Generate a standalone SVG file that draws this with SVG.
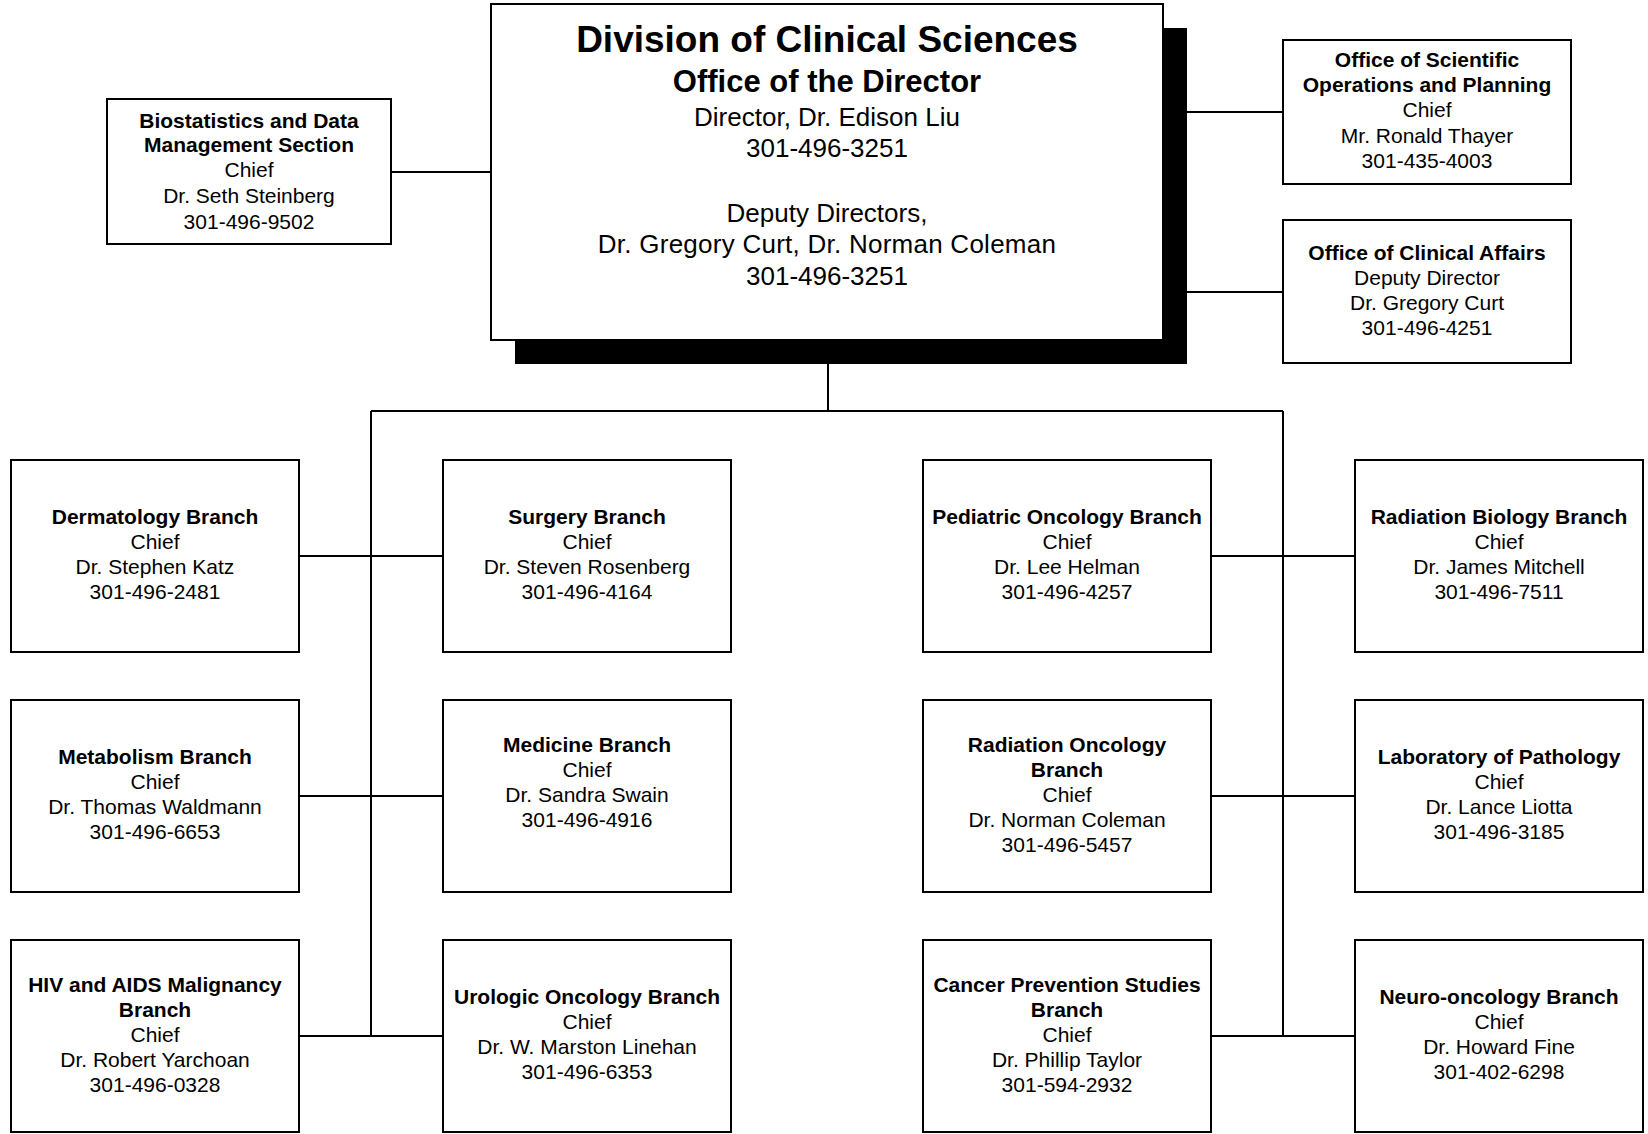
<svg xmlns="http://www.w3.org/2000/svg" width="1648" height="1134" viewBox="0 0 1648 1134">
<style>
  .box { fill: #ffffff; stroke: #000000; stroke-width: 2; }
  .shadow { fill: #000000; }
  .wire { stroke: #000000; stroke-width: 2; fill: none; }
  text { font-family: "Liberation Sans", Arial, sans-serif; fill: #000000; text-anchor: middle; }
  .b { font-size: 21px; font-weight: bold; }
  .r { font-size: 21px; }
  .t1 { font-size: 37px; font-weight: bold; }
  .t2 { font-size: 31px; font-weight: bold; }
  .m { font-size: 26px; }
</style>
<rect width="1648" height="1134" fill="#ffffff"/>

<g id="connectors">
  <line class="wire" x1="391" y1="172" x2="491" y2="172"/>
  <line class="wire" x1="1187" y1="112" x2="1283" y2="112"/>
  <line class="wire" x1="1187" y1="292" x2="1283" y2="292"/>
  <line class="wire" x1="828" y1="364" x2="828" y2="411"/>
  <line class="wire" x1="371" y1="411" x2="1283" y2="411"/>
  <line class="wire" x1="371" y1="411" x2="371" y2="1036"/>
  <line class="wire" x1="1283" y1="411" x2="1283" y2="1036"/>
  <line class="wire" x1="299" y1="556" x2="443" y2="556"/>
  <line class="wire" x1="299" y1="796" x2="443" y2="796"/>
  <line class="wire" x1="299" y1="1036" x2="443" y2="1036"/>
  <line class="wire" x1="1211" y1="556" x2="1355" y2="556"/>
  <line class="wire" x1="1211" y1="796" x2="1355" y2="796"/>
  <line class="wire" x1="1211" y1="1036" x2="1355" y2="1036"/>
</g>

<g id="director">
  <rect class="shadow" x="515" y="28" width="672" height="336"/>
  <rect class="box" x="491" y="4" width="672" height="336"/>
  <text class="t1" x="827" y="52">Division of Clinical Sciences</text>
  <text class="t2" x="827" y="92">Office of the Director</text>
  <text class="m" x="827" y="126">Director, Dr. Edison Liu</text>
  <text class="m" x="827" y="157">301-496-3251</text>
  <text class="m" x="827" y="222">Deputy Directors,</text>
  <text class="m" x="827" y="253" letter-spacing="0.25">Dr. Gregory Curt, Dr. Norman Coleman</text>
  <text class="m" x="827" y="285">301-496-3251</text>
</g>

<g id="biostatistics">
  <rect class="box" x="107" y="99" width="284" height="145"/>
  <text class="b" x="249" y="128">Biostatistics and Data</text>
  <text class="b" x="249" y="152">Management Section</text>
  <text class="r" x="249" y="177">Chief</text>
  <text class="r" x="249" y="203">Dr. Seth Steinberg</text>
  <text class="r" x="249" y="229">301-496-9502</text>
</g>

<g id="scientific-operations">
  <rect class="box" x="1283" y="40" width="288" height="144"/>
  <text class="b" x="1427" y="67">Office of Scientific</text>
  <text class="b" x="1427" y="92">Operations and Planning</text>
  <text class="r" x="1427" y="117">Chief</text>
  <text class="r" x="1427" y="143">Mr. Ronald Thayer</text>
  <text class="r" x="1427" y="168">301-435-4003</text>
</g>

<g id="clinical-affairs">
  <rect class="box" x="1283" y="220" width="288" height="143"/>
  <text class="b" x="1427" y="260">Office of Clinical Affairs</text>
  <text class="r" x="1427" y="285">Deputy Director</text>
  <text class="r" x="1427" y="310">Dr. Gregory Curt</text>
  <text class="r" x="1427" y="335">301-496-4251</text>
</g>

<g id="dermatology">
  <rect class="box" x="11" y="460" width="288" height="192"/>
  <text class="b" x="155" y="524">Dermatology Branch</text>
  <text class="r" x="155" y="549">Chief</text>
  <text class="r" x="155" y="574">Dr. Stephen Katz</text>
  <text class="r" x="155" y="599">301-496-2481</text>
</g>

<g id="surgery">
  <rect class="box" x="443" y="460" width="288" height="192"/>
  <text class="b" x="587" y="524">Surgery Branch</text>
  <text class="r" x="587" y="549">Chief</text>
  <text class="r" x="587" y="574">Dr. Steven Rosenberg</text>
  <text class="r" x="587" y="599">301-496-4164</text>
</g>

<g id="pediatric-oncology">
  <rect class="box" x="923" y="460" width="288" height="192"/>
  <text class="b" x="1067" y="524">Pediatric Oncology Branch</text>
  <text class="r" x="1067" y="549">Chief</text>
  <text class="r" x="1067" y="574">Dr. Lee Helman</text>
  <text class="r" x="1067" y="599">301-496-4257</text>
</g>

<g id="radiation-biology">
  <rect class="box" x="1355" y="460" width="288" height="192"/>
  <text class="b" x="1499" y="524">Radiation Biology Branch</text>
  <text class="r" x="1499" y="549">Chief</text>
  <text class="r" x="1499" y="574">Dr. James Mitchell</text>
  <text class="r" x="1499" y="599">301-496-7511</text>
</g>

<g id="metabolism">
  <rect class="box" x="11" y="700" width="288" height="192"/>
  <text class="b" x="155" y="764">Metabolism Branch</text>
  <text class="r" x="155" y="789">Chief</text>
  <text class="r" x="155" y="814">Dr. Thomas Waldmann</text>
  <text class="r" x="155" y="839">301-496-6653</text>
</g>

<g id="medicine">
  <rect class="box" x="443" y="700" width="288" height="192"/>
  <text class="b" x="587" y="752">Medicine Branch</text>
  <text class="r" x="587" y="777">Chief</text>
  <text class="r" x="587" y="802">Dr. Sandra Swain</text>
  <text class="r" x="587" y="827">301-496-4916</text>
</g>

<g id="radiation-oncology">
  <rect class="box" x="923" y="700" width="288" height="192"/>
  <text class="b" x="1067" y="752">Radiation Oncology</text>
  <text class="b" x="1067" y="777">Branch</text>
  <text class="r" x="1067" y="802">Chief</text>
  <text class="r" x="1067" y="827">Dr. Norman Coleman</text>
  <text class="r" x="1067" y="852">301-496-5457</text>
</g>

<g id="pathology">
  <rect class="box" x="1355" y="700" width="288" height="192"/>
  <text class="b" x="1499" y="764">Laboratory of Pathology</text>
  <text class="r" x="1499" y="789">Chief</text>
  <text class="r" x="1499" y="814">Dr. Lance Liotta</text>
  <text class="r" x="1499" y="839">301-496-3185</text>
</g>

<g id="hiv-aids">
  <rect class="box" x="11" y="940" width="288" height="192"/>
  <text class="b" x="155" y="992">HIV and AIDS Malignancy</text>
  <text class="b" x="155" y="1017">Branch</text>
  <text class="r" x="155" y="1042">Chief</text>
  <text class="r" x="155" y="1067">Dr. Robert Yarchoan</text>
  <text class="r" x="155" y="1092">301-496-0328</text>
</g>

<g id="urologic-oncology">
  <rect class="box" x="443" y="940" width="288" height="192"/>
  <text class="b" x="587" y="1004">Urologic Oncology Branch</text>
  <text class="r" x="587" y="1029">Chief</text>
  <text class="r" x="587" y="1054">Dr. W. Marston Linehan</text>
  <text class="r" x="587" y="1079">301-496-6353</text>
</g>

<g id="cancer-prevention">
  <rect class="box" x="923" y="940" width="288" height="192"/>
  <text class="b" x="1067" y="992">Cancer Prevention Studies</text>
  <text class="b" x="1067" y="1017">Branch</text>
  <text class="r" x="1067" y="1042">Chief</text>
  <text class="r" x="1067" y="1067">Dr. Phillip Taylor</text>
  <text class="r" x="1067" y="1092">301-594-2932</text>
</g>

<g id="neuro-oncology">
  <rect class="box" x="1355" y="940" width="288" height="192"/>
  <text class="b" x="1499" y="1004">Neuro-oncology Branch</text>
  <text class="r" x="1499" y="1029">Chief</text>
  <text class="r" x="1499" y="1054">Dr. Howard Fine</text>
  <text class="r" x="1499" y="1079">301-402-6298</text>
</g>
</svg>
